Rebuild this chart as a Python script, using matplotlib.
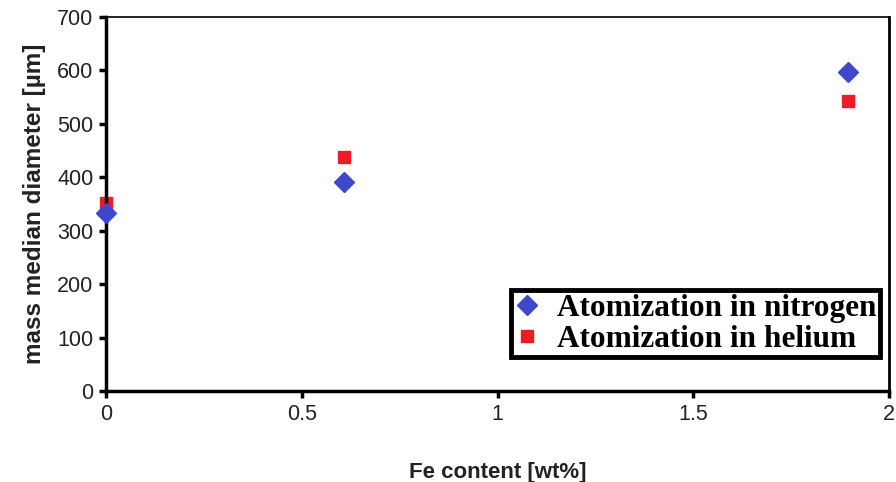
import matplotlib.pyplot as plt

fe_content = [0.0, 0.608, 1.895]
nitrogen = [333, 391, 597]
helium = [352, 438, 543]

fig = plt.figure(figsize=(8.96, 4.82), dpi=100)
ax = fig.add_axes([106 / 896, 1 - 391 / 482, 783 / 896, 374 / 482])

ax.plot(fe_content, nitrogen, linestyle='none', marker='D', markersize=10,
        color='#3F48CC', label='Atomization in nitrogen', clip_on=False, zorder=3)
ax.plot(fe_content, helium, linestyle='none', marker='s', markersize=9,
        color='#ED1C24', label='Atomization in helium', clip_on=False, zorder=2)

ax.set_xlim(0, 2)
ax.set_ylim(0, 700)
ax.set_xticks([0, 0.5, 1, 1.5, 2])
ax.set_xticklabels(['0', '0.5', '1', '1.5', '2'])
ax.set_yticks(range(0, 701, 100))

for side in ['left', 'bottom']:
    ax.spines[side].set_linewidth(2.5)
ax.spines['right'].set_linewidth(2)
ax.spines['top'].set_linewidth(1.2)
ax.tick_params(direction='out', length=5, width=2.5, labelsize=15.5, pad=4)
for lab in ax.get_xticklabels() + ax.get_yticklabels():
    lab.set_family('Liberation Sans')
    lab.set_color('#222222')

ax.set_xlabel('Fe content [wt%]', fontsize=16, fontweight='bold',
              family='Liberation Sans', labelpad=27, color='#222222')
ax.set_ylabel('mass median diameter [µm]', fontsize=17.5, fontweight='bold',
              family='Liberation Sans', labelpad=8, color='#222222')

leg = ax.legend(loc='lower right', bbox_to_anchor=(0.9885, 0.09),
                prop={'family': 'Liberation Serif', 'weight': 'bold', 'size': 22.5},
                frameon=True, fancybox=False, framealpha=1,
                handlelength=0.8, handletextpad=0.55,
                borderpad=0.12, labelspacing=0.05, borderaxespad=0)
leg.get_frame().set_edgecolor('black')
leg.get_frame().set_linewidth(3.5)

fig.savefig('out.png', dpi=100)
